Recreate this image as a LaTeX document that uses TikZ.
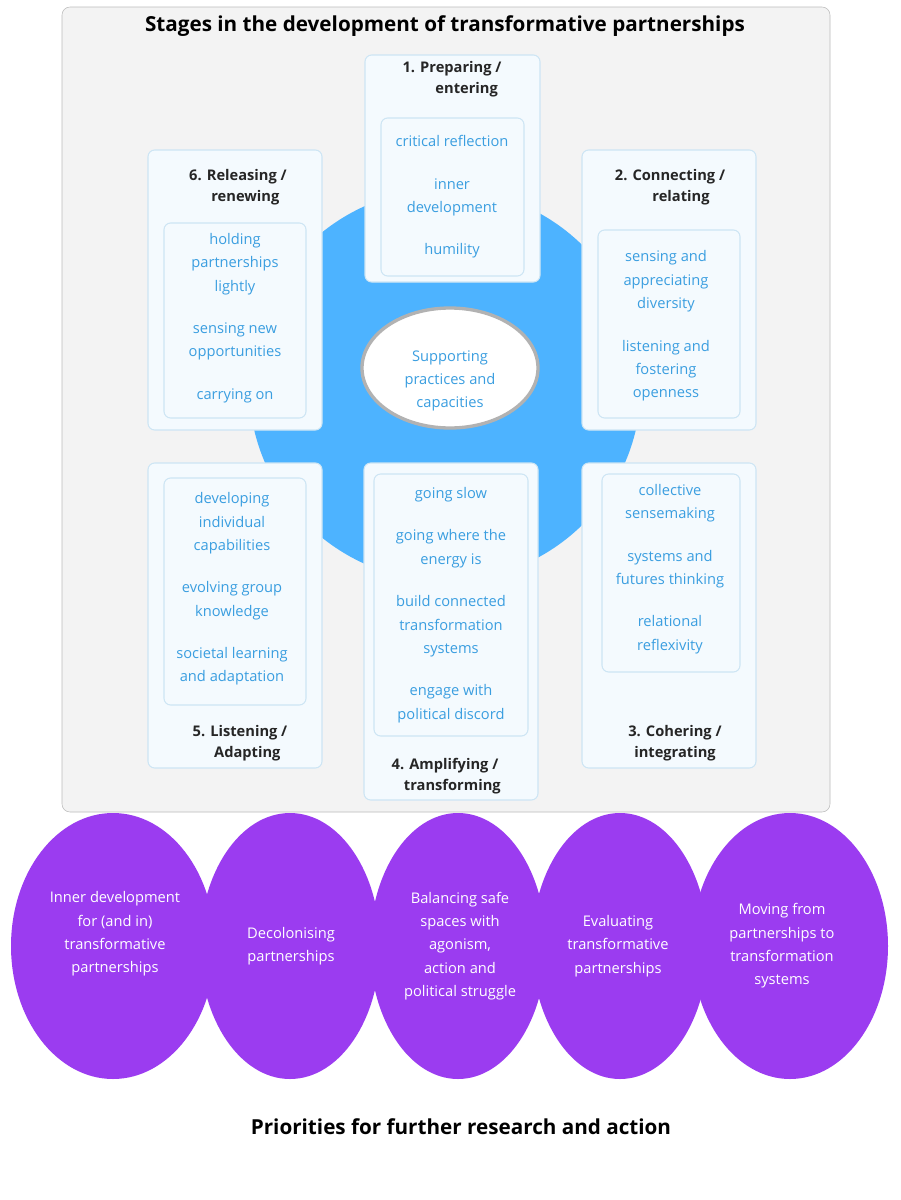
\documentclass[tikz,border=0pt]{standalone}
\usepackage{fontspec}
\setmainfont{Open Sans}
\usetikzlibrary{shapes.geometric}
\definecolor{panel}{HTML}{F3F3F3}
\definecolor{panelb}{HTML}{BBBBBB}
\definecolor{bigblue}{HTML}{4DB3FF}
\definecolor{boxfill}{HTML}{F4FAFE}
\definecolor{boxb}{HTML}{CDE5F4}
\definecolor{txtblue}{HTML}{3A9EE0}
\definecolor{purp}{HTML}{9B3CF0}
\begin{document}
\begin{tikzpicture}[x=0.75pt,y=-0.75pt,
  box/.style={draw=boxb,fill=boxfill,rounded corners=5pt,line width=0.8pt},
  lbl/.style={font=\fontsize{11}{16}\selectfont\bfseries,text=black!85,align=center},
  it/.style={font=\fontsize{11}{17.5}\selectfont,text=txtblue,align=center},
  pt/.style={font=\fontsize{11}{17.5}\selectfont,text=white,align=center}]
\useasboundingbox (0,0) rectangle (900,1200);
\fill[white] (0,0) rectangle (900,1200);
\draw[panelb,fill=panel,rounded corners=6pt] (62,7) rectangle (830,812);
\node[font=\fontsize{15.5}{18}\selectfont\bfseries] (title) at (445,26) {Stages in the development of transformative partnerships};
\fill[bigblue] (445,385) circle [radius=196];
% box 1
\draw[box] (365,55) rectangle (540,282);
\node[lbl] (t1) at (452,79) {1. Preparing /\\\hspace*{2em}entering};
\draw[box] (381,118) rectangle (524,276);
\node[it] (i1) at (452,197) {critical reflection\\[1.3em]inner\\development\\[1.3em]humility};
% box 6
\draw[box] (148,150) rectangle (322,430);
\node[lbl] (t6) at (238,187) {6. Releasing /\\\hspace*{1em}renewing};
\draw[box] (164,223) rectangle (306,418);
\node[it] (i6) at (235,318) {holding\\partnerships\\lightly\\[1.3em]sensing new\\opportunities\\[1.3em]carrying on};
% box 2
\draw[box] (582,150) rectangle (756,430);
\node[lbl] (t2) at (670,187) {2. Connecting /\\\hspace*{1.5em}relating};
\draw[box] (598,230) rectangle (740,418);
\node[it] (i2) at (666,326) {sensing and\\appreciating\\diversity\\[1.3em]listening and\\fostering\\openness};
% box 5
\draw[box] (148,463) rectangle (322,768);
\draw[box] (164,478) rectangle (306,705);
\node[it] (i5) at (232,589) {developing\\individual\\capabilities\\[1.3em]evolving group\\knowledge\\[1.3em]societal learning\\and adaptation};
\node[lbl] (t5) at (240,743) {5. Listening /\\\hspace*{1em}Adapting};
% box 4
\draw[box] (364,463) rectangle (538,800);
\draw[box] (374,474) rectangle (528,736);
\node[it] (i4) at (451,605) {going slow\\[1.3em]going where the\\energy is\\[1.3em]build connected\\transformation\\systems\\[1.3em]engage with\\political discord};
\node[lbl] (t4) at (445,776) {4. Amplifying /\\\hspace*{1em}transforming};
% box 3
\draw[box] (582,463) rectangle (756,768);
\draw[box] (602,474) rectangle (740,672);
\node[it] (i3) at (670,569) {collective\\sensemaking\\[1.3em]systems and\\futures thinking\\[1.3em]relational\\reflexivity};
\node[lbl] (t3) at (675,743) {3. Cohering /\\integrating};
% centre
\node[draw=black!30,line width=2.5pt,fill=white,ellipse,minimum width=132pt,minimum height=90pt,inner sep=0pt] (c) at (450,368) {};
\node[it] (ct) at (450,381) {Supporting\\practices and\\capacities};
% purple
\fill[purp] (113,946) ellipse [x radius=102,y radius=133];
\fill[purp] (290,946) ellipse [x radius=90,y radius=133];
\fill[purp] (458,946) ellipse [x radius=88,y radius=133];
\fill[purp] (620,946) ellipse [x radius=88,y radius=133];
\fill[purp] (790,946) ellipse [x radius=98,y radius=133];
\node[pt] (p1) at (115,934) {Inner development\\for (and in)\\transformative\\partnerships};
\node[pt] (p2) at (291,946) {Decolonising\\partnerships};
\node[pt] (p3) at (460,946) {Balancing safe\\spaces with\\agonism,\\action and\\political struggle};
\node[pt] (p4) at (618,946) {Evaluating\\transformative\\partnerships};
\node[pt] (p5) at (782,946) {Moving from\\partnerships to\\transformation\\systems};
\node[font=\fontsize{15.5}{18}\selectfont\bfseries] (bt) at (461,1127) {Priorities for further research and action};
\end{tikzpicture}
\end{document}
